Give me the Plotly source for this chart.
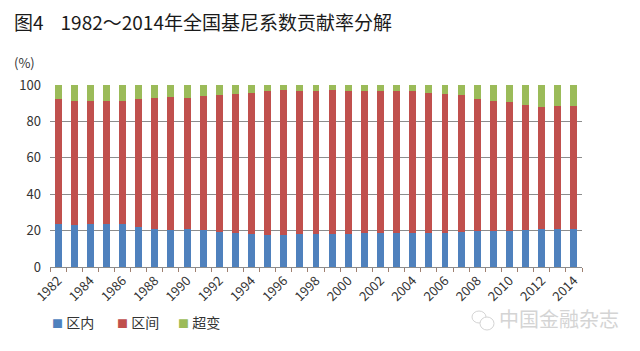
import plotly.graph_objects as go

years = list(range(1982, 2015))
intra_top = [23.8, 23.2, 23.4, 23.8, 23.4, 21.8, 21.0, 20.1, 21.0, 20.1, 19.2, 18.6, 18.1, 17.7, 17.7, 18.3, 18.3,
             18.3, 18.3, 18.8, 18.6, 18.8, 18.8, 18.8, 18.8, 19.2, 19.6, 19.6, 19.6, 20.1, 20.7, 20.7, 20.7]
inter_top = [92.1, 91.2, 91.2, 91.2, 91.2, 92.3, 92.7, 93.6, 92.7, 94.1, 94.7, 95.1, 95.8, 96.7, 97.3, 96.9, 96.7,
             97.3, 96.5, 96.7, 96.7, 96.7, 96.7, 95.8, 95.2, 94.5, 92.1, 91.2, 90.5, 89.0, 88.1, 88.5, 88.5]

intra = intra_top
inter = [round(t - b, 1) for t, b in zip(inter_top, intra_top)]
trans = [round(100 - t, 1) for t in inter_top]

names = ["区内", "区间", "超变"]
colors = ["#4F81BD", "#C0504D", "#9BBB59"]
tick_years = list(range(1982, 2015, 2))

font = "Noto Sans CJK SC"
W, H = 640, 351
L, R, T, B = 50, 58, 85, 84
pw, ph = W - L - R, H - T - B


def px(x):
    return (x - L) / pw


def py(y):
    return (H - B - y) / ph


fig = go.Figure()
for n, v, c in zip(names, [intra, inter, trans], colors):
    fig.add_trace(go.Bar(x=years, y=v, name=n, marker=dict(color=c, line=dict(width=0)), width=0.43,
                         showlegend=False))

fig.update_layout(
    barmode="stack",
    width=W, height=H,
    margin=dict(l=L, r=R, t=T, b=B),
    paper_bgcolor="white", plot_bgcolor="white",
    font=dict(family=font, size=12, color="#404040"),
    showlegend=False,
)
fig.update_xaxes(
    range=[1981.5, 2014.5], tickvals=tick_years, ticktext=[str(y) for y in tick_years],
    tickangle=-45, ticks="", showgrid=False, showline=True, linecolor="#8c8c8c", linewidth=1,
    tickfont=dict(size=13, color="#333333"),
    minor=dict(ticks="outside", ticklen=4, tickcolor="#a08070", tick0=1981.5, dtick=1, showgrid=False),
)
fig.update_yaxes(
    range=[0, 100], tickvals=[0, 20, 40, 60, 80, 100], showgrid=True, gridcolor="#8c8c8c", gridwidth=1,
    showline=False, zeroline=False, ticks="", tickfont=dict(size=13, color="#333333"),
    ticklabelstandoff=8,
)
fig.add_annotation(xref="paper", yref="paper", x=px(12), y=py(22), xanchor="left", yanchor="middle",
                   text="图4&nbsp;&nbsp;&nbsp;&nbsp;1982～2014年全国基尼系数贡献率分解", showarrow=False,
                   font=dict(family=font, size=19, color="#1a1a1a"))
fig.add_annotation(xref="paper", yref="paper", x=px(12), y=py(62), xanchor="left", yanchor="middle",
                   text="(%)", showarrow=False, font=dict(family=font, size=13, color="#333333"))

# legend (squares + labels)
leg_x = [50, 115, 176]
for xx, n, c in zip(leg_x, names, colors):
    fig.add_annotation(xref="paper", yref="paper", x=px(xx), y=py(322), xanchor="left", yanchor="middle",
                       text=f"<span style='color:{c};font-size:11px'>■</span>&nbsp;{n}", showarrow=False,
                       font=dict(family=font, size=14, color="#333333"))

# watermark
fig.add_annotation(xref="paper", yref="paper", x=px(497), y=py(318), xanchor="left", yanchor="middle",
                   text="中国金融杂志", showarrow=False, font=dict(family=font, size=20, color="#d4d4d4"))
fig.add_shape(type="circle", xref="paper", yref="paper", x0=px(472), x1=px(486), y0=py(323), y1=py(311),
              line=dict(color="#d4d4d4", width=1))
fig.add_shape(type="circle", xref="paper", yref="paper", x0=px(480), x1=px(494), y0=py(330), y1=py(317),
              line=dict(color="#d4d4d4", width=1), fillcolor="white")

fig.write_html("out.html")
